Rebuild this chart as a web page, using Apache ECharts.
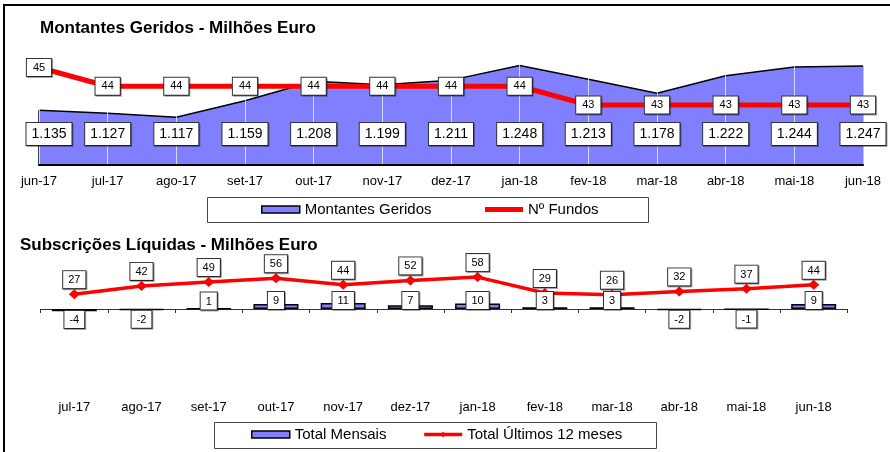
<!DOCTYPE html>
<html><head><meta charset="utf-8">
<script src="https://cdn.jsdelivr.net/npm/echarts@6/dist/echarts.min.js"></script>
<style>html,body{margin:0;padding:0;background:#fff}#c{width:890px;height:452px}</style>
</head><body><div id="c"></div>
<script>
const monthsTop = ['jun-17','jul-17','ago-17','set-17','out-17','nov-17','dez-17','jan-18','fev-18','mar-18','abr-18','mai-18','jun-18'];
const montantes = [1135,1127,1117,1159,1208,1199,1211,1248,1213,1178,1222,1244,1247];
const numFundos = [45,44,44,44,44,44,44,44,43,43,43,43,43];
const monthsBottom = ['jul-17','ago-17','set-17','out-17','nov-17','dez-17','jan-18','fev-18','mar-18','abr-18','mai-18','jun-18'];
const totalMensais = [-4,-2,1,9,11,7,10,3,3,-2,-1,9];
const totalUltimos12 = [27,42,49,56,44,52,58,29,26,32,37,44];

const FONT = "'Liberation Sans', Arial, sans-serif";
const BLUE = '#8080ff';
const RED = '#ff0000';
const Y0_MIN = 996, Y0_MAX = 1338;
const chart = echarts.init(document.getElementById('c'), null, {renderer:'canvas'});
function boxLabel(size, pad){
  return {show:true, color:'#000', fontFamily:FONT, fontSize:size, lineHeight:size+1,
    backgroundColor:'#fff', borderColor:'#333', borderWidth:1, padding:pad,
    shadowColor:'rgba(0,0,0,0.35)', shadowOffsetX:1, shadowOffsetY:1, shadowBlur:0};
}
const fmtPt = v => String(v).replace(/\B(?=(\d{3})+$)/, '.');
const lastIdx = montantes.length - 1;

const option = {
  animation:false,
  textStyle:{fontFamily:FONT},
  title:[
    {text:'Montantes Geridos - Milhões Euro', left:40, top:20, padding:0,
     textStyle:{fontSize:17, fontWeight:'bold', color:'#000', fontFamily:FONT}},
    {text:'Subscrições Líquidas - Milhões Euro', left:20, top:237, padding:0,
     textStyle:{fontSize:17, fontWeight:'bold', color:'#000', fontFamily:FONT}}
  ],
  legend:[
    {left:261, top:202, padding:0, itemWidth:38, itemHeight:7, itemGap:51, selectedMode:false,
     textStyle:{fontSize:15, color:'#000', fontFamily:FONT},
     data:[{name:'Montantes Geridos', icon:'rect', itemStyle:{color:BLUE, borderColor:'#000', borderWidth:1.5}},
           {name:'Nº Fundos', lineStyle:{width:5}}]},
    {left:251, top:427, padding:0, itemWidth:38, itemHeight:7, itemGap:36, selectedMode:false,
     textStyle:{fontSize:15, color:'#000', fontFamily:FONT},
     data:[{name:'Total Mensais', icon:'rect', itemStyle:{color:BLUE, borderColor:'#000', borderWidth:1.5}},
           {name:'Total Últimos 12 meses', lineStyle:{width:3.5}}]}
  ],
  graphic:[
    {type:'polyline', silent:true, shape:{points:[[4,452],[4,5],[890,5]]}, style:{stroke:'#000', lineWidth:2, fill:null}},
    {type:'rect', silent:true, shape:{x:207.5, y:197.5, width:441, height:25}, style:{fill:null, stroke:'#444', lineWidth:1}},
    {type:'rect', silent:true, shape:{x:214.5, y:422.5, width:442, height:26}, style:{fill:null, stroke:'#444', lineWidth:1}}
  ],
  grid:[
    {left:39, right:27, top:30, height:135},
    {left:40.7, right:42.7, top:265, height:132}
  ],
  xAxis:[
    {type:'category', gridIndex:0, data:monthsTop, boundaryGap:false, z:3,
     axisLine:{lineStyle:{color:'#000', width:2}}, axisTick:{show:false},
     axisLabel:{color:'#000', fontSize:13, margin:10, interval:0, fontFamily:FONT},
     splitLine:{show:true, lineStyle:{color:'rgba(255,255,255,0.7)', width:1}}},
    {type:'category', gridIndex:1, data:monthsBottom,
     axisLine:{onZero:true, lineStyle:{color:'#333', width:1}},
     axisTick:{show:true, length:4, lineStyle:{color:'#333'}},
     axisLabel:{show:false}, splitLine:{show:false}},
    {type:'category', gridIndex:1, data:monthsBottom, position:'bottom',
     axisLine:{show:false, onZero:false}, axisTick:{show:false}, splitLine:{show:false},
     axisLabel:{color:'#000', fontSize:13, margin:4, interval:0, fontFamily:FONT}}
  ],
  yAxis:[
    {type:'value', gridIndex:0, min:Y0_MIN, max:Y0_MAX, show:false},
    {type:'value', gridIndex:0, min:39.8, max:47, show:false},
    {type:'value', gridIndex:1, min:-160, max:80, show:false}
  ],
  series:[
    {name:'Montantes Geridos', type:'line', xAxisIndex:0, yAxisIndex:0, data:montantes, z:2,
     symbol:'none', silent:true, itemStyle:{color:BLUE},
     lineStyle:{color:'#000', width:1.5}, areaStyle:{color:BLUE, opacity:1},
     markLine:{silent:true, z:2, symbol:'none', label:{show:false}, lineStyle:{color:'#000', width:1.5, type:'solid'},
       data:[
         [{coord:[0, montantes[0]]}, {coord:[0, Y0_MIN]}],
         [{coord:[lastIdx, montantes[lastIdx]]}, {coord:[lastIdx, Y0_MIN]}]
       ]}},
    {name:'montLabels', type:'line', xAxisIndex:0, yAxisIndex:0, data:montantes, z:4,
     symbol:'circle', symbolSize:2, silent:true, itemStyle:{color:'rgba(0,0,0,0)'},
     lineStyle:{width:0, opacity:0},
     label:Object.assign(boxLabel(14,[4,5,3,5]), {position:'inside', formatter:p => fmtPt(p.value)})},
    {name:'Nº Fundos', type:'line', xAxisIndex:0, yAxisIndex:1, data:numFundos, z:5,
     symbol:'circle', symbolSize:2, silent:true, itemStyle:{color:'rgba(0,0,0,0)'},
     lineStyle:{color:RED, width:5},
     label:Object.assign(boxLabel(11,[3,6,2,6]), {position:'inside'})},
    {name:'Total Mensais', type:'bar', xAxisIndex:1, yAxisIndex:2, z:3, barWidth:45, silent:true,
     data:totalMensais.map(v => ({value:v, label:{position: v < 0 ? 'insideTop' : 'insideBottom', distance: v < 0 ? 2 : 0}})),
     itemStyle:{color:BLUE, borderColor:'#000', borderWidth:1.5},
     label:boxLabel(11,[3,5,2,5])},
    {name:'Total Últimos 12 meses', type:'line', xAxisIndex:1, yAxisIndex:2, z:2, data:totalUltimos12,
     symbol:'diamond', symbolSize:[11,10], silent:true, itemStyle:{color:RED},
     lineStyle:{color:RED, width:3.5},
     label:Object.assign(boxLabel(11,[3,5,2,5]), {position:'top', distance:1})}
  ]
};
chart.setOption(option);
const LABEL_Y = 134;
const labelItems = montantes.map((v, i) => {
  const p = chart.convertToPixel({seriesIndex:1}, [i, v]);
  const dx = i === 0 ? 10 : 0;
  return {value:v, label:{offset:[dx, LABEL_Y - p[1]]}};
});
chart.setOption({series:[{}, {data:labelItems}]});
</script>
</body></html>
